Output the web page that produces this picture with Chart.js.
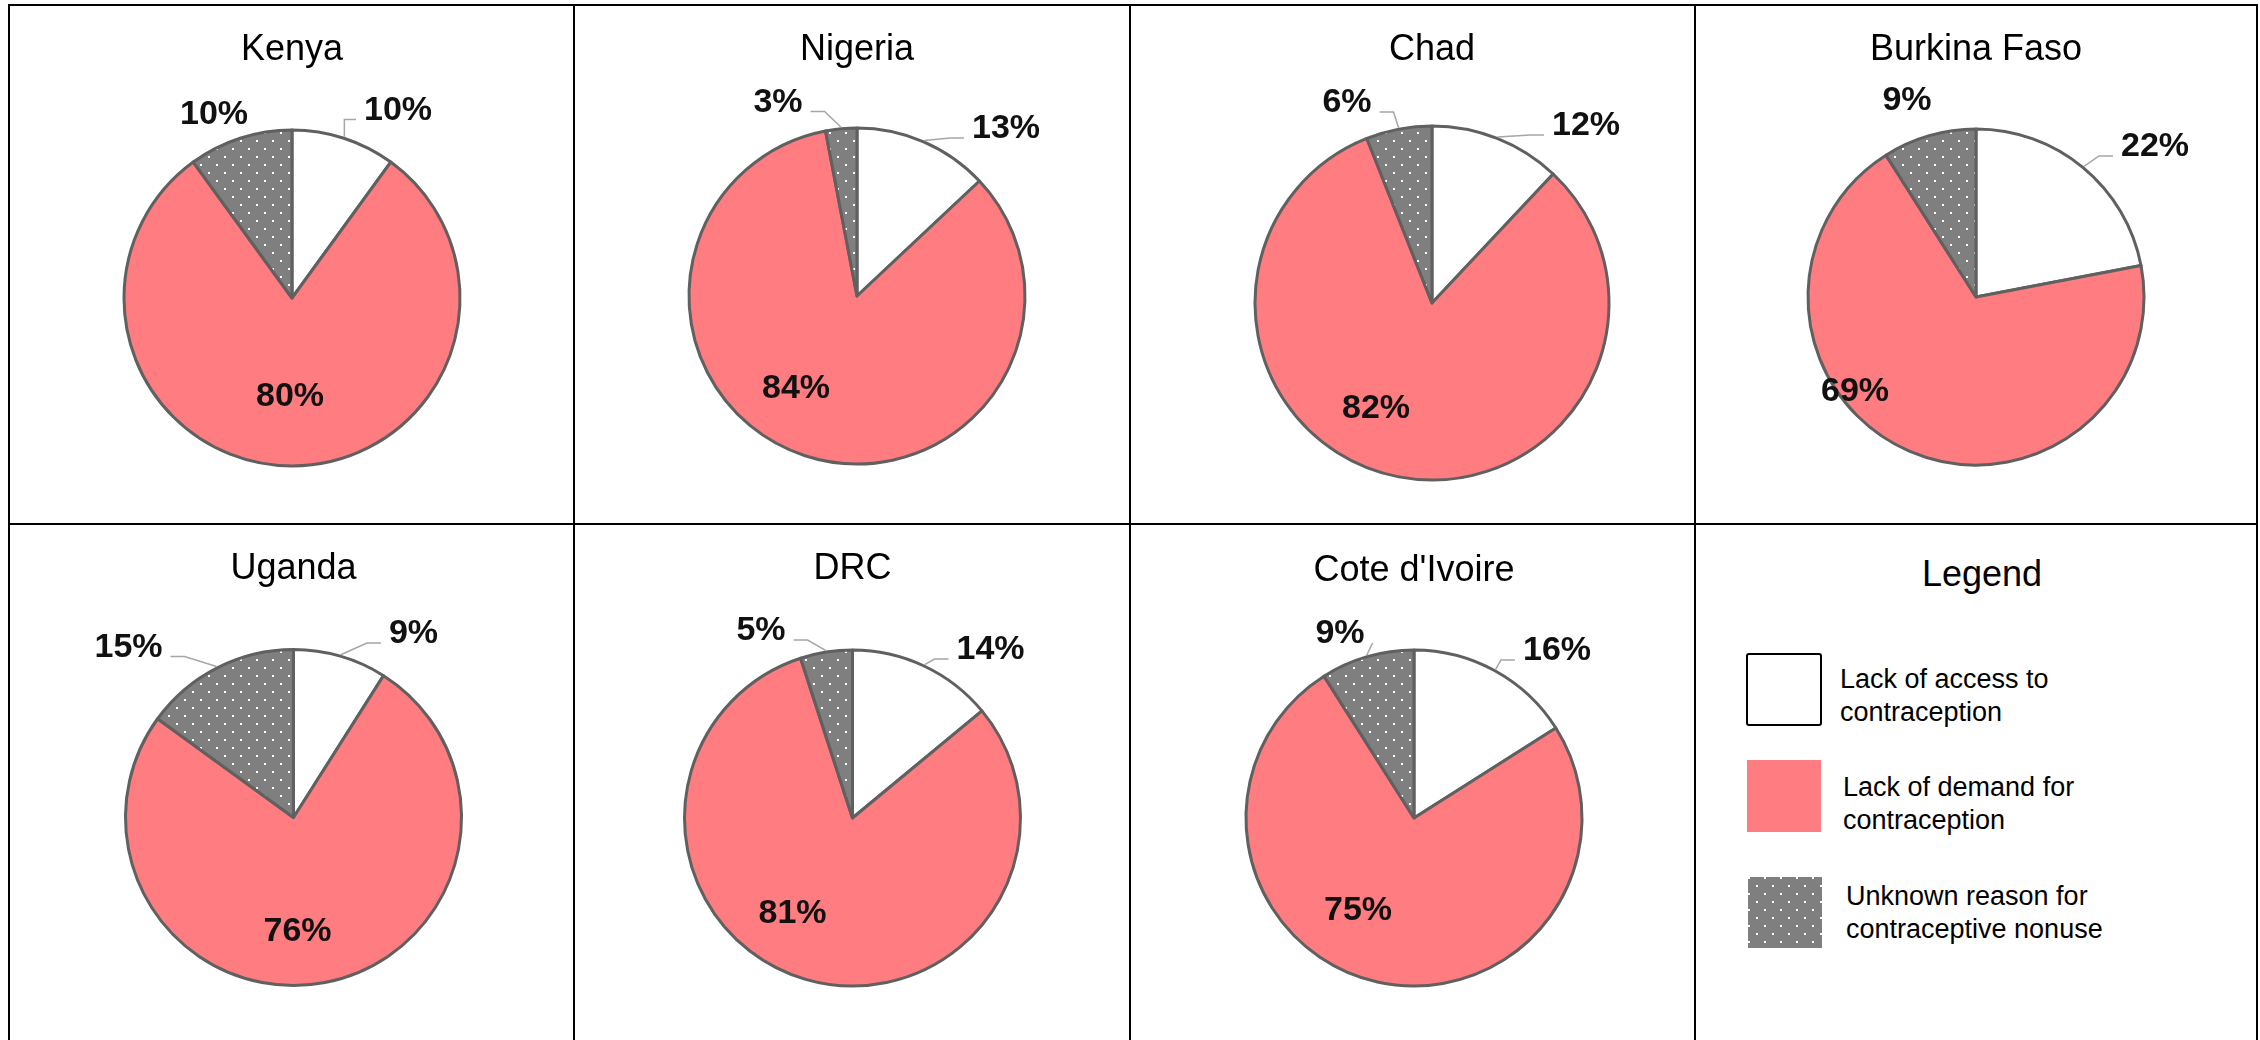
<!DOCTYPE html>
<html>
<head>
<meta charset="utf-8">
<title>Reasons for contraceptive nonuse</title>
<script src="https://cdn.jsdelivr.net/npm/chart.js@4.4.1/dist/chart.umd.min.js"></script>
<style>
  html, body { margin: 0; padding: 0; background: #fff; }
  body { width: 2260px; height: 1040px; position: relative; overflow: hidden;
         font-family: "Liberation Sans", Arial, sans-serif; color: #000; }
  canvas { position: absolute; }
  .rule { position: absolute; background: #000; z-index: 5; }
  .legend-title { position: absolute; font-size: 36px; line-height: 36px; white-space: nowrap; }
  .swatch { position: absolute; box-sizing: border-box; }
  .legend-text { position: absolute; font-size: 27px; line-height: 33px; white-space: nowrap; }
</style>
</head>
<body>
<script>
// ---- data ----
const countries = ['Kenya', 'Nigeria', 'Chad', 'Burkina Faso', 'Uganda', 'DRC', "Cote d'Ivoire"];
const categories = [
  'Lack of access to contraception',
  'Lack of demand for contraception',
  'Unknown reason for contraceptive nonuse'
];
const lackOfAccess  = [10, 13, 12, 22,  9, 14, 16];
const lackOfDemand  = [80, 84, 82, 69, 76, 81, 75];
const unknownReason = [10,  3,  6,  9, 15,  5,  9];

// ---- layout ----
// frame rules (page px)
const colRules = [8, 573, 1129, 1694, 2256];
const rowRules = [4, 523];
// pie centre / radius in page px, and label offsets from the centre: [dx, dy, leader line]
const pieLayout = [
  { cx: 292,  cy: 298, r: 168, titleY: 60, labels: [[106, -190.5, true], [-2, 96, false],  [-78, -186.5, false]] },
  { cx: 857,  cy: 296, r: 168, titleY: 60, labels: [[149, -170, true],   [-61, 90, false], [-79, -196.5, true]] },
  { cx: 1432, cy: 303, r: 177, titleY: 60, labels: [[154, -180, true],   [-56, 103, false],[-85, -203, true]] },
  { cx: 1976, cy: 297, r: 168, titleY: 60, labels: [[179, -153, true],   [-121, 92, false],[-69, -199, false]] },
  { cx: 293.5,cy: 817.5,r: 168, titleY: 579, labels: [[120, -186.5, true], [4, 111, false],  [-165, -173, true]] },
  { cx: 852.5,cy: 818, r: 168, titleY: 579, labels: [[138, -171, true],   [-60, 93, false], [-91.5, -190, true]] },
  { cx: 1414, cy: 818, r: 168, titleY: 581, labels: [[143, -170, true],   [-56, 90, false], [-74, -187, true]] }
];

const PINK = '#ff7c80';
const GREY = '#7f7f7f';
const EDGE = '#606060';

// white-dotted grey fill used for the "unknown" slices
function makeDotTile() {
  const t = document.createElement('canvas');
  t.width = 16; t.height = 16;
  const g = t.getContext('2d');
  g.fillStyle = GREY; g.fillRect(0, 0, 16, 16);
  g.fillStyle = '#ffffff';
  g.fillRect(0, 0, 2, 2);
  g.fillRect(8, 8, 2, 2);
  return t;
}
const dotTile = makeDotTile();

// frame
colRules.forEach(x => {
  const d = document.createElement('div');
  d.className = 'rule';
  Object.assign(d.style, { left: x + 'px', top: rowRules[0] + 'px', width: '2px', height: (1040 - rowRules[0]) + 'px' });
  document.body.appendChild(d);
});
rowRules.forEach(y => {
  const d = document.createElement('div');
  d.className = 'rule';
  Object.assign(d.style, { left: colRules[0] + 'px', top: y + 'px', width: (colRules[4] - colRules[0] + 2) + 'px', height: '2px' });
  document.body.appendChild(d);
});

// percentage labels, leader lines and panel titles
const sliceLabels = {
  id: 'sliceLabels',
  afterDatasetsDraw(chart, args, opts) {
    const { ctx } = chart;
    const meta = chart.getDatasetMeta(0);
    const values = chart.data.datasets[0].data;
    ctx.save();
    ctx.font = 'bold 34px "Liberation Sans", Arial, sans-serif';
    ctx.textAlign = 'center';
    ctx.textBaseline = 'alphabetic';
    meta.data.forEach((arc, i) => {
      const p = arc.getProps(['x', 'y', 'startAngle', 'endAngle', 'outerRadius'], true);
      const [dx, dy, leader] = opts.place[i];
      const text = values[i] + '%';
      const lx = p.x + dx, ly = p.y + dy;
      const w = ctx.measureText(text).width;
      if (leader) {
        const mid = (p.startAngle + p.endAngle) / 2;
        const ax = p.x + Math.cos(mid) * (p.outerRadius + 1.5);
        const ay = p.y + Math.sin(mid) * (p.outerRadius + 1.5);
        const dir = ax >= lx ? 1 : -1;
        const ex = lx + dir * (w / 2 + 8), ey = ly + 12;
        const run = Math.min(14, Math.max(0, dir * (ax - ex)));
        ctx.beginPath();
        ctx.moveTo(ex, ey);
        ctx.lineTo(ex + dir * run, ey);
        ctx.lineTo(ax, ay);
        ctx.strokeStyle = '#a6a6a6';
        ctx.lineWidth = 1.5;
        ctx.stroke();
      }
      ctx.fillStyle = '#111111';
      ctx.fillText(text, lx, ly + 12);
    });
    ctx.font = '36px "Liberation Sans", Arial, sans-serif';
    ctx.fillStyle = '#000000';
    ctx.fillText(opts.title, meta.data[0].x, opts.titleY);
    ctx.restore();
  }
};

countries.forEach((name, k) => {
  const col = k < 4 ? k : k - 4;
  const row = k < 4 ? 0 : 1;
  const left = colRules[col];
  const top = rowRules[row];
  const W = colRules[col + 1] + 2 - left;
  const H = (row === 0 ? rowRules[1] + 2 : 1040) - top;
  const L = pieLayout[k];
  const cx = L.cx - left, cy = L.cy - top;
  const s = Math.floor(Math.min(cx, W - cx, cy, H - cy)) - 1;

  const cv = document.createElement('canvas');
  cv.width = W; cv.height = H;
  cv.style.left = left + 'px';
  cv.style.top = top + 'px';
  cv.style.width = W + 'px';
  cv.style.height = H + 'px';
  document.body.appendChild(cv);
  const ctx = cv.getContext('2d');
  const dots = ctx.createPattern(dotTile, 'repeat');

  new Chart(ctx, {
    type: 'pie',
    data: {
      labels: categories,
      datasets: [{
        data: [lackOfAccess[k], lackOfDemand[k], unknownReason[k]],
        backgroundColor: ['#ffffff', PINK, dots],
        borderColor: EDGE,
        borderWidth: 3,
        borderJoinStyle: 'round'
      }]
    },
    options: {
      responsive: false,
      animation: false,
      devicePixelRatio: 1,
      radius: L.r,
      layout: { padding: { left: cx - s, right: W - cx - s, top: cy - s, bottom: H - cy - s } },
      events: [],
      plugins: {
        legend: { display: false },
        tooltip: { enabled: false },
        sliceLabels: { place: L.labels, title: name, titleY: L.titleY - top }
      }
    },
    plugins: [sliceLabels]
  });
});

// legend panel
(function buildLegend() {
  const add = (cls, styles, text) => {
    const d = document.createElement('div');
    d.className = cls;
    Object.assign(d.style, styles);
    if (text) d.innerHTML = text;
    document.body.appendChild(d);
    return d;
  };
  add('legend-title', { left: '1982px', top: '556px', transform: 'translateX(-50%)' }, 'Legend');
  add('swatch', { left: '1746px', top: '653px', width: '76px', height: '73px', border: '2px solid #000', borderRadius: '3px', background: '#fff' });
  add('swatch', { left: '1747px', top: '760px', width: '74px', height: '72px', background: PINK });
  add('swatch', { left: '1748px', top: '877px', width: '74px', height: '71px', backgroundImage: 'url(' + dotTile.toDataURL() + ')' });
  const lines = [
    ['Lack of access to', 'contraception'],
    ['Lack of demand for', 'contraception'],
    ['Unknown reason for', 'contraceptive nonuse']
  ];
  const pos = [[1840, 663], [1843, 771], [1846, 880]];
  lines.forEach((ln, i) => {
    add('legend-text', { left: pos[i][0] + 'px', top: pos[i][1] + 'px' }, ln.join('<br>'));
  });
})();
</script>
</body>
</html>
